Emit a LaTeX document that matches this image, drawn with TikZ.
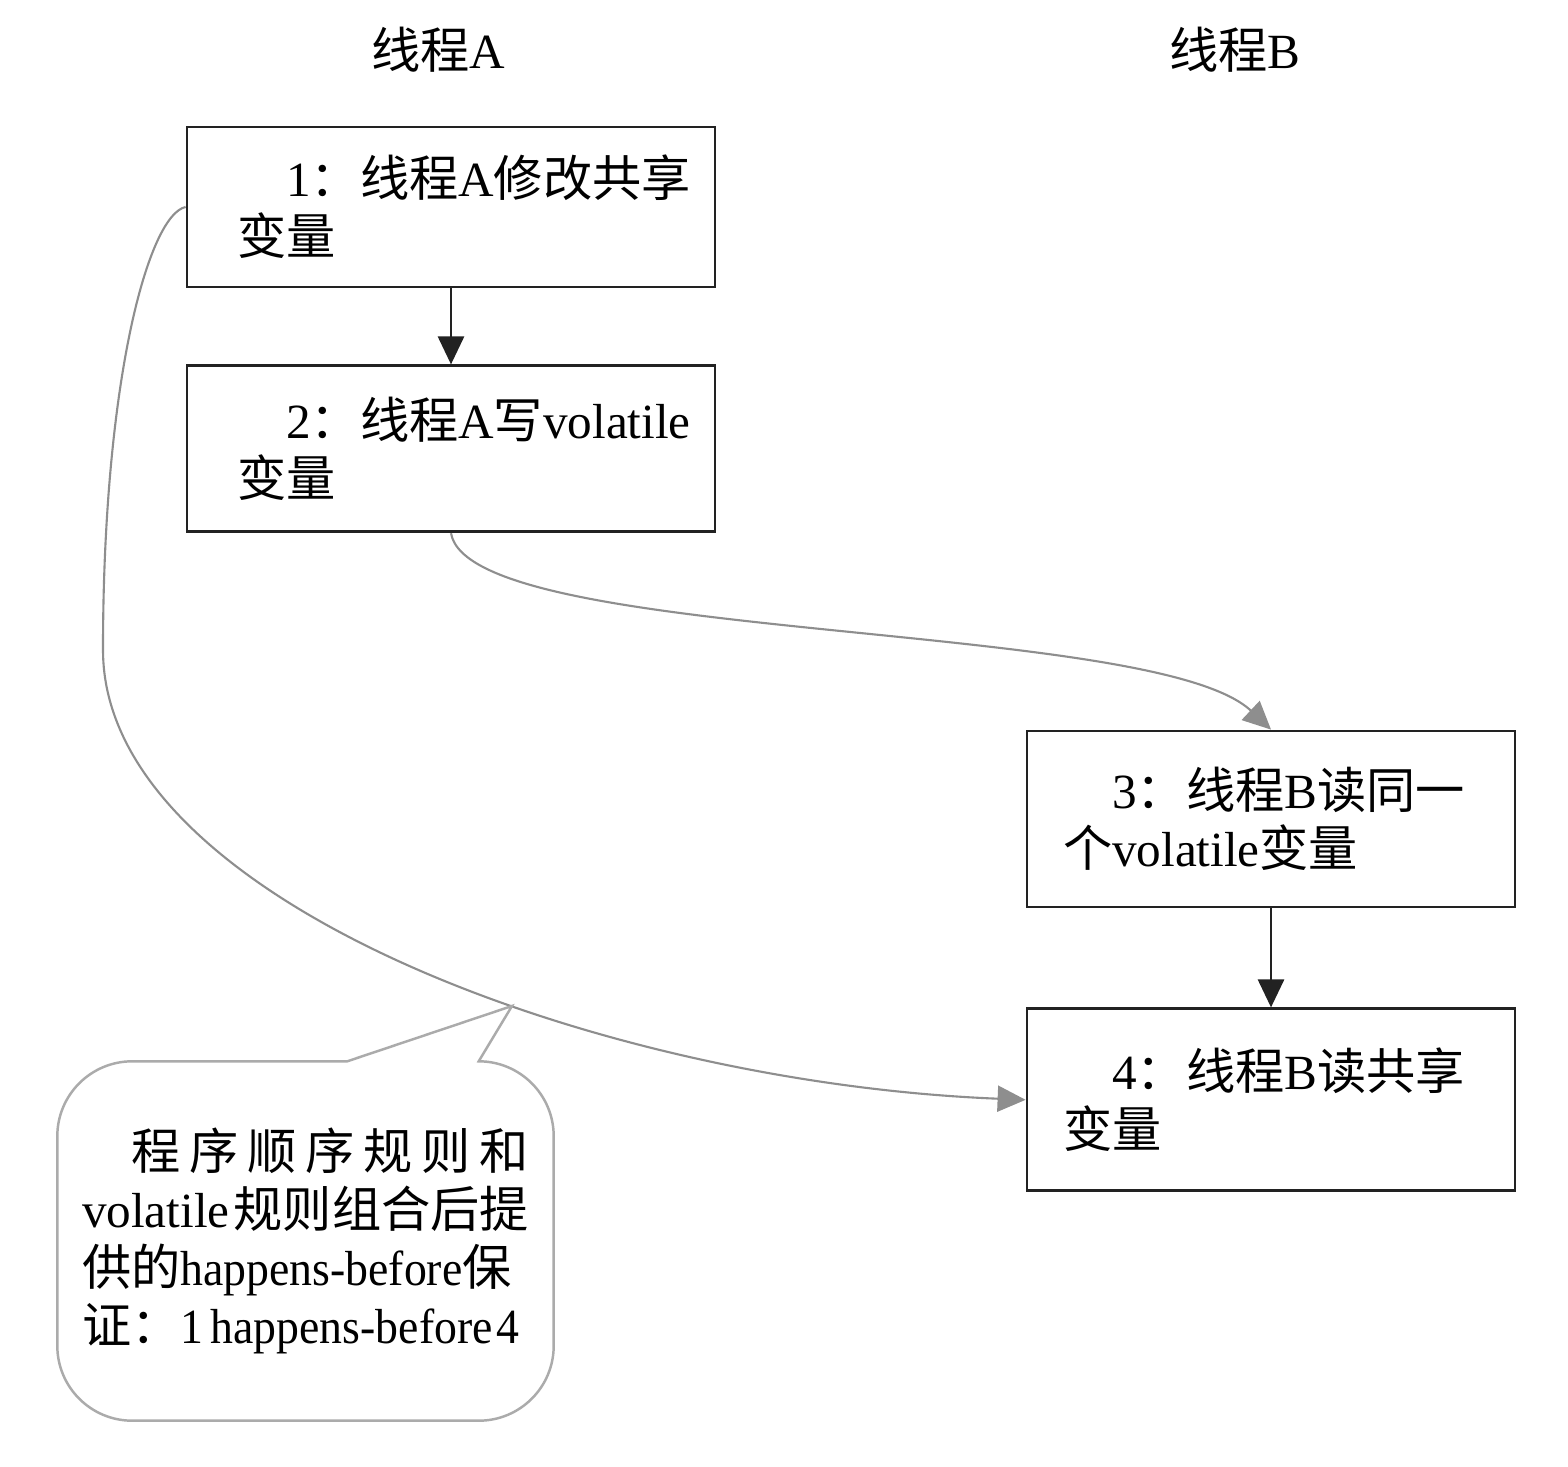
\documentclass[tikz,border=0pt]{standalone}
\usepackage{fontspec}
\setmainfont{Liberation Serif}
\newfontfamily\zhfont{Noto Sans CJK SC}
\newfontfamily\narrowfont{Liberation Serif}[FakeStretch=0.93]
\newcommand{\zh}[1]{{\zhfont #1}}
\usetikzlibrary{arrows.meta, positioning}
\usepackage{xcolor}
\definecolor{darkline}{HTML}{222222}
\definecolor{linegray}{HTML}{8E8E8E}
\definecolor{notegray}{HTML}{ABABAB}

\begin{document}
\begin{tikzpicture}[
    font=\fontsize{14pt}{16.5pt}\selectfont,
    >={Triangle[length=0.28cm, width=0.26cm]},
    % Estilos de bloques
    opblock/.style={
        rectangle,
        draw=darkline,
        line width=0.8pt,
        minimum width=5.28cm,
        inner xsep=0.5cm,
        text width=4.28cm,
        align=left
    },
    opblockB/.style={
        opblock,
        minimum width=4.88cm,
        inner xsep=0.36cm,
        text width=4.16cm
    },
    titletext/.style={
        inner sep=0pt
    },
    noteblock/.style={
        rectangle,
        minimum width=4.95cm,
        minimum height=3.58cm,
        inner xsep=0.24cm,
        text width=4.47cm,
        align=left
    },
    noteline/.style={
        draw=notegray,
        line width=0.7pt
    },
    orderflow/.style={
        draw=darkline,
        ->,
        line width=0.8pt
    },
    hbflow/.style={
        draw=linegray,
        ->,
        line width=0.6pt
    }
]

    % Marco de la figura
    \path[use as bounding box, fill=white] (0,0) rectangle (15.68,14.66);

    % ==========================================
    % 1. THREAD A (Izquierda)
    % ==========================================
    \node[titletext] (titleA) at (4.38,14.16) {\zh{线程}A};

    \node[opblock, minimum height=1.60cm] (b1) at (4.51,12.59) {
        \hspace*{1em}1\zh{：线程}A\zh{修改共享}\\
        \zh{变量}
    };
    \node[opblock, minimum height=1.66cm, below=0.76cm of b1] (b2) {
        \hspace*{1em}2\zh{：线程}A\zh{写}volatile\\
        \zh{变量}
    };

    % ==========================================
    % 2. THREAD B (Derecha)
    % ==========================================
    \node[titletext] (titleB) at (12.35,14.16) {\zh{线程}B};

    \node[opblockB, minimum height=1.76cm] (b3) at (12.71,6.47) {
        \hspace*{1em}3\zh{：线程}B\zh{读同一}\\
        \zh{个}volatile\zh{变量}
    };
    \node[opblockB, minimum height=1.82cm, below=0.99cm of b3] (b4) {
        \hspace*{1em}4\zh{：线程}B\zh{读共享}\\
        \zh{变量}
    };

    % ==========================================
    % 3. FLUJOS
    % ==========================================
    \draw[orderflow] (b1.south) -- (b2.north);
    \draw[orderflow] (b3.south) -- (b4.north);

    % volatile: 2 -> 3
    \draw[hbflow] (b2.south) .. controls +(0.19,-1.11) and +(-1.18,1.11) .. (b3.north);

    % happens-before: 1 -> 4
    \coordinate (turn) at (1.03,8.16);
    \draw[hbflow] (b1.west) .. controls +(-0.37,-0.08) and +(0,2.70) .. (turn)
        .. controls +(0,-2.50) and +(-4.27,0.17) .. (b4.west);

    % ==========================================
    % 4. CALLOUT (Abajo izquierda)
    % ==========================================
    \node[noteblock] (note) at (3.055,2.25) {
        \makebox[4.47cm][s]{\hspace*{1em}\zh{程\hfill 序\hfill 顺\hfill 序\hfill 规\hfill 则\hfill 和}}\\
        \makebox[4.47cm][s]{volatile\hfill\zh{规则组合后提}}\\
        \mbox{\zh{供的}{\narrowfont happens-before}\zh{保}}\\
        \mbox{\zh{证：}{\narrowfont 1\hspace{0.15em}happens-before\hspace{0.08em}4}}
    };
    \coordinate (notetip) at (5.12,4.60);
    \draw[noteline] (notetip) -- ([xshift=2.9cm]note.north west)
        -- ([xshift=0.75cm]note.north west) arc[start angle=90, end angle=180, radius=0.75cm]
        -- ([yshift=0.75cm]note.south west) arc[start angle=180, end angle=270, radius=0.75cm]
        -- ([xshift=-0.75cm]note.south east) arc[start angle=270, end angle=360, radius=0.75cm]
        -- ([yshift=-0.75cm]note.north east) arc[start angle=0, end angle=90, radius=0.75cm]
        -- cycle;

\end{tikzpicture}
\end{document}
